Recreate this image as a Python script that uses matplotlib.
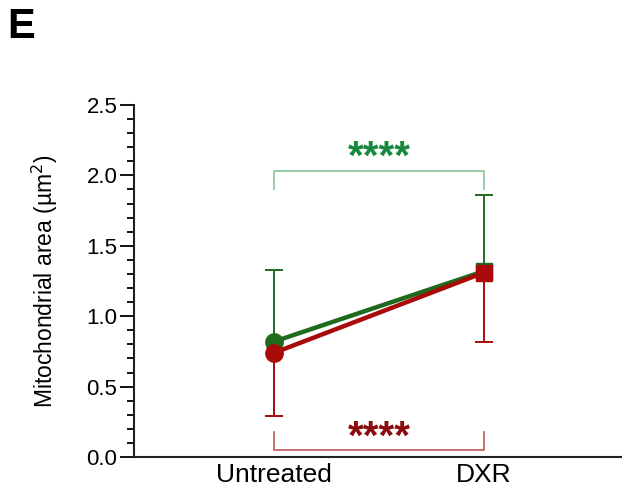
#!/usr/bin/env python3

import matplotlib
matplotlib.use('Agg')
import matplotlib.pyplot as plt
from matplotlib.ticker import MultipleLocator

plt.rcParams['font.family'] = ['Liberation Sans', 'DejaVu Sans']

groups = ['Untreated', 'DXR']
green_mean = [0.82, 1.32]
green_err_up = [0.51, 0.54]
red_mean = [0.74, 1.31]
red_err_down = [0.45, 0.49]

green = '#1e6b1e'
red = '#a80a0a'

fig = plt.figure(figsize=(6.22, 4.90), dpi=100)
ax = fig.add_axes([0.2154, 0.0673, 0.7846, 0.7184])

x = [0, 1]
cap = 0.043

# one-sided error bars
g_top = [m + e for m, e in zip(green_mean, green_err_up)]
r_bot = [m - e for m, e in zip(red_mean, red_err_down)]
ax.vlines(x, green_mean, g_top, color=green, lw=1.4, zorder=2)
ax.hlines(g_top, [i - cap for i in x], [i + cap for i in x], color=green, lw=1.4, zorder=2)
ax.vlines(x, r_bot, red_mean, color=red, lw=1.4, zorder=2)
ax.hlines(r_bot, [i - cap for i in x], [i + cap for i in x], color=red, lw=1.4, zorder=2)

ax.plot(x, green_mean, color=green, lw=3.2, zorder=3)
ax.plot(x[0], green_mean[0], 'o', color=green, ms=12.5, zorder=4)
ax.plot(x[1], green_mean[1], 's', color=green, ms=11.5, zorder=4)
ax.plot(x, red_mean, color=red, lw=3.2, zorder=5)
ax.plot(x[0], red_mean[0], 'o', color=red, ms=12.5, zorder=6)
ax.plot(x[1], red_mean[1], 's', color=red, ms=11.5, zorder=6)

# significance brackets
ax.plot([0, 0, 1, 1], [1.90, 2.03, 2.03, 1.90], color='#88c49a', lw=1.2)
ax.text(0.5, 2.045, '****', color='#17893f', fontsize=29, fontweight='bold',
        ha='center', va='baseline')
ax.plot([0, 0, 1, 1], [0.18, 0.05, 0.05, 0.18], color='#c0575a', lw=1.2)
ax.text(0.5, 0.062, '****', color='#8b0a0a', fontsize=29, fontweight='bold',
        ha='center', va='baseline')

ax.set_xlim(-0.667, 1.657)
ax.set_ylim(0, 2.5)
ax.set_xticks(x)
ax.set_xticklabels(groups, fontsize=19)
ax.tick_params(axis='x', length=0, pad=4)
ax.yaxis.set_major_locator(MultipleLocator(0.5))
ax.yaxis.set_minor_locator(MultipleLocator(0.1))
ax.set_yticklabels([f'{v:.1f}' for v in ax.get_yticks()], fontsize=16)
ax.tick_params(axis='y', which='major', length=10, width=1.3, pad=2)
ax.tick_params(axis='y', which='minor', length=5, width=1.3)
ax.set_ylabel('Mitochondrial area (µm$^2$)', fontsize=16.5, labelpad=19)

for s in ['top', 'right']:
    ax.spines[s].set_visible(False)
for s in ['left', 'bottom']:
    ax.spines[s].set_linewidth(1.5)
    ax.spines[s].set_color('#222222')

fig.text(0.012, 0.985, 'E', fontsize=30, fontweight='bold', va='top', ha='left')

fig.savefig('out.png', dpi=100)
